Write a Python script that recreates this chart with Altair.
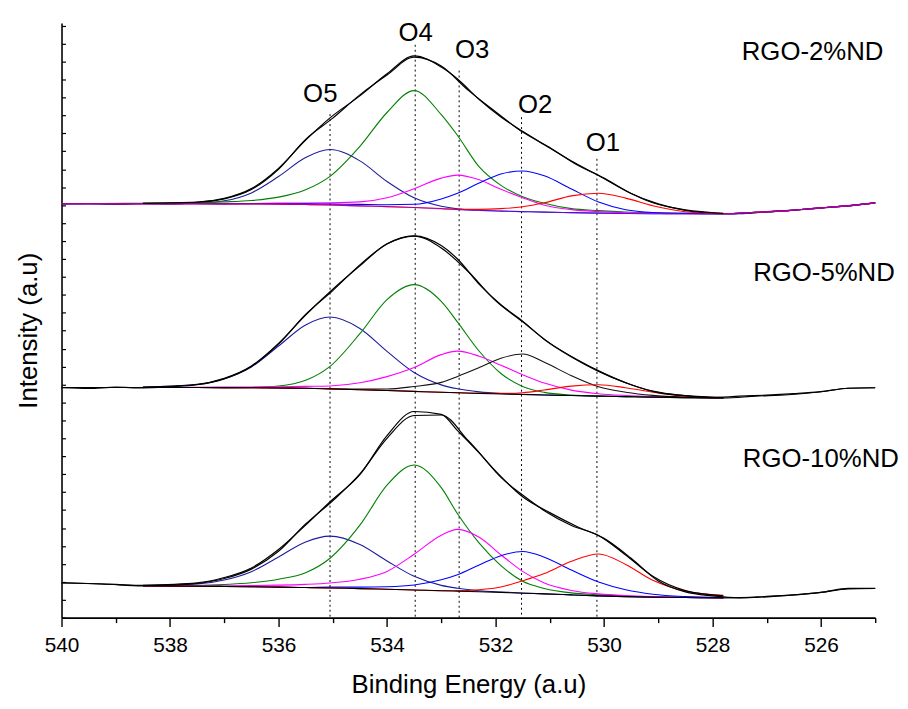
import altair as alt
import pandas as pd

FONT = "Liberation Sans"

# energy grid (eV) on which the fitted components were read (middle / bottom panels)
G = [538.5, 537.5, 537.0, 536.5, 536.0, 535.5, 535.05, 534.5, 534.0, 533.5, 533.0,
     532.7, 532.3, 531.9, 531.5, 531.1, 530.6, 530.1, 529.6, 529.1, 528.5, 527.8]
# full grid (backgrounds, and top-panel components which run across the whole range)
G_BG = [540.0, 539.25, 538.5, 537.5, 537.0, 536.5, 536.0, 535.5, 535.05, 534.5, 534.0, 533.5,
        533.0, 532.7, 532.3, 531.9, 531.5, 531.1, 530.6, 530.1, 529.6, 529.1, 528.5, 527.8,
        527.2, 526.6, 526.0, 525.5, 525.0]
# raw spectrum grid
RAW_E = [540.0, 539.5, 539.0, 538.5, 538.0, 537.5, 537.0, 536.5, 536.0, 535.5, 535.0,
         534.5, 534.0, 533.5, 533.0, 532.5, 532.0, 531.5, 531.0, 530.5, 530.0,
         529.5, 529.0, 528.5, 528.0, 527.5, 527.0, 526.5, 526.0, 525.5, 525.0]

# ---- backgrounds (absolute intensity, a.u.) on G_BG ----
BG_TOP = [417.6, 417.8, 417.7, 417.6, 417.5, 417.4, 417.3, 416.8, 416.3, 415.5, 414.7, 413.8,
          412.5, 411.5, 410.8, 410.2, 409.7, 409.2, 408.7, 408.2, 407.8, 407.6, 407.5, 407.5,
          409.0, 410.7, 413.5, 415.5, 418.5]
BG_MID = [232.3, 232.3, 232.3, 232.2, 232.1, 232.0, 231.8, 231.4, 230.8, 230.0, 229.2, 228.3,
          227.4, 226.9, 226.3, 225.7, 225.2, 224.7, 224.1, 223.5, 223.0, 222.5, 222.0, 221.7,
          223.5, 225.0, 228.0, 231.5, 232.0]
BG_BOT = [35.0, 34.0, 32.0, 31.7, 31.5, 31.2, 30.8, 30.4, 30.0, 29.3, 28.7, 28.0,
          27.2, 26.8, 26.2, 25.5, 24.7, 24.0, 23.0, 22.0, 21.2, 20.7, 20.3, 20.0,
          20.5, 22.5, 25.5, 29.0, 29.5]

# ---- component heights above background ----
# top panel: on G_BG
O5_TOP = [0, 0, 0, 0.6, 3.1, 11.2, 27.8, 47.5, 56, 45.4, 25.4, 9.8, 2.6, 1.0, 0.2, 0, 0, 0, 0, 0, 0, 0, 0, 0, 0, 0, 0, 0, 0]
O4_TOP = [0, 0, 0.5, 1, 2, 3.5, 7, 15, 29, 60, 95, 118, 95, 75, 44, 26, 15, 9, 4, 2.5, 1.5, 1, 0.5, 0, 0, 0, 0, 0, 0]
O3_TOP = [0, 0, 0, 0, 0.3, 0.5, 1, 1.5, 2.2, 4, 9, 19, 31, 35, 31, 22, 14, 7, 3, 1.5, 0.8, 0.4, 0, 0, 0, 0, 0, 0, 0]
O2_TOP = [0, 0, 0, 0, 0, 0.2, 0.4, 0.8, 1, 1.5, 2, 3.3, 10, 16.7, 27.7, 37.4, 41, 36.6, 23.8, 11.2, 3.8, 1.2, 0.4, 0, 0, 0, 0, 0, 0]
O1_TOP = [0, 0, 0, 0, 0, 0, 0, 0, 0, 0, 0, 0, 0.3, 0.5, 1.2, 2.5, 4.9, 9.4, 16.9, 20, 15.5, 8, 2.1, 0.2, 0, 0, 0, 0, 0]
# fits: on G
FIT_TOP = [0.5, 1.6, 5.5, 15.5, 36, 65, 88, 111, 134, 153, 143, 132, 112, 95, 81, 68, 52, 38, 23, 11, 4, 0.5]

# middle / bottom panels: on G
O5_MID = [0.3, 3, 9, 21, 42.3, 63.9, 72.5, 61.8, 39.5, 19, 7.5, 4, 1.5, 0.5, 0.2, 0, 0, 0, 0, 0, 0, 0]
O4_MID = [0, 0, 0, 0.3, 1.9, 8.1, 22.8, 56.5, 91.7, 107.7, 91.7, 71.3, 42.5, 20.7, 8.1, 2.6, 0.5, 0, 0, 0, 0, 0]
O3_MID = [0, 0.3, 0.5, 0.8, 1.2, 2, 3, 7, 14, 24, 38, 42, 37.5, 29, 20, 12, 5.5, 2.5, 1.2, 0.6, 0.3, 0]
O2_MID = [0, 0, 0, 0, 0, 0, 0.3, 0.7, 1.5, 5, 10, 16.5, 26, 36, 40.8, 33, 20, 9.5, 4.5, 1.8, 0.5, 0]
O1_MID = [0, 0, 0, 0, 0, 0, 0, 0, 0, 0, 0, 0, 0.2, 0.6, 1.8, 5, 9.5, 11.5, 9, 5, 1.5, 0.3]
FIT_MID = [0.3, 3.3, 9.5, 22, 45, 74, 98, 125, 148, 157, 148, 135, 110, 90, 74, 56, 39, 25, 14, 6, 2, 0.3]

O5_BOT = [0.2, 2.2, 6.5, 15.2, 30.5, 46, 52.3, 44.6, 28.5, 13.7, 5.4, 2.9, 1, 0.4, 0.2, 0, 0, 0, 0, 0, 0, 0]
O4_BOT = [0.5, 1, 2, 4, 8, 15, 30, 64, 105, 126, 104, 78, 49, 27, 12, 5.5, 2, 1, 0.5, 0, 0, 0]
O3_BOT = [0, 0.3, 0.6, 1.2, 2, 3.2, 5, 9.5, 18, 36, 56, 62.3, 55, 38, 22, 11, 4.5, 2, 1, 0.5, 0.2, 0]
O2_BOT = [0, 0, 0, 0, 0, 0, 0.8, 1.5, 2.5, 5, 11, 16.5, 27, 37, 42, 37, 25, 14, 7, 3, 1, 0.3]
O1_BOT = [0, 0, 0, 0, 0, 0, 0, 0, 0, 0, 0, 0.3, 2, 5.5, 12.5, 20.5, 34, 42.3, 32.5, 17, 6.5, 2.5]
FIT_BOT = [0.7, 3.5, 9, 19, 38, 63, 87, 115, 155, 180, 178, 162, 140, 116, 99, 84, 70, 61, 42, 21, 7, 2]

# ---- raw spectra (absolute intensity, a.u.) on RAW_E ----
RAW_TOP = [417.5, 417.9, 417.3, 417.9, 417.4, 419.0, 422.5, 432.0, 452.5, 482.5, 504.0,
           527.5, 547.5, 565.5, 556.5, 532.0, 510.5, 490.0, 474.5, 457.0, 443.5,
           428.0, 417.5, 411.0, 408.0, 407.6, 409.6, 411.2, 413.3, 415.8, 418.5]
RAW_MID = [232.0, 231.2, 232.6, 231.8, 233.0, 235.0, 241.0, 253.5, 276.0, 306.0, 330.0,
           356.0, 377.0, 385.0, 373.0, 349.0, 320.0, 298.5, 277.0, 260.5, 246.5,
           235.0, 227.0, 224.0, 222.0, 223.5, 224.5, 226.0, 228.0, 231.5, 232.0]
RAW_BOT = [35.3, 34.5, 33.5, 32.5, 32.8, 34.5, 39.5, 49.0, 67.0, 94.5, 118.0,
           145.0, 181.0, 204.0, 204.5, 178.5, 148.0, 122.0, 106.0, 92.0, 80.0,
           60.0, 37.0, 26.0, 22.0, 20.0, 21.5, 23.0, 25.5, 29.5, 29.5]

# ---- annotations ----
DOT_E = [535.05, 533.48, 532.67, 531.52, 530.13]
DOT_TOP = [508, 578, 552, 505, 463]
O_LABELS = ["O5", "O4", "O3", "O2", "O1"]
O_LABEL_E = [535.23, 533.47, 532.43, 531.27, 530.02]
O_LABEL_V = [520, 582, 565, 509, 471]
SAMPLES = ["RGO-2%ND", "RGO-5%ND", "RGO-10%ND"]
SAMPLE_E = [527.46, 527.25, 527.44]
SAMPLE_V = [563, 340, 152]
X_TICKS = [540, 539, 538, 537, 536, 535, 534, 533, 532, 531, 530, 529, 528, 527, 526, 525]

NAVY, GREEN, MAGENTA, BLUE, RED = "#1c1c9c", "#008000", "#ff00ff", "#0000ff", "#ff0000"

# ---- build tables ----
panels = [
    ("top", BG_TOP, G_BG, [("O5", O5_TOP, NAVY), ("O4", O4_TOP, GREEN), ("O3", O3_TOP, MAGENTA),
                           ("O2", O2_TOP, BLUE), ("O1", O1_TOP, RED)], FIT_TOP, RAW_TOP, "#7a00ff"),
    ("mid", BG_MID, G, [("O5", O5_MID, NAVY), ("O4", O4_MID, GREEN), ("O3", O3_MID, MAGENTA),
                        ("O2", O2_MID, "#111111"), ("O1", O1_MID, RED)], FIT_MID, RAW_MID, "#000000"),
    ("bot", BG_BOT, G, [("O5", O5_BOT, NAVY), ("O4", O4_BOT, GREEN), ("O3", O3_BOT, MAGENTA),
                        ("O2", O2_BOT, BLUE), ("O1", O1_BOT, RED)], FIT_BOT, RAW_BOT, "#000000"),
]

comp_rows, fit_rows, bg_rows, raw_rows = [], [], [], []
for pname, bg, grid, comps, fit, raw, bgcol in panels:
    bgmap = dict(zip(G_BG, bg))
    for cname, heights, col in comps:
        for i, (e, h) in enumerate(zip(grid, heights)):
            comp_rows.append({"E": e, "v": bgmap[e] + h, "series": f"{pname}-{cname}",
                              "color": col, "i": i})
    for i, (e, h) in enumerate(zip(G, fit)):
        fit_rows.append({"E": e, "v": bgmap[e] + h, "series": f"{pname}-fit", "i": i})
    for i, (e, b) in enumerate(zip(G_BG, bg)):
        bg_rows.append({"E": e, "v": b, "series": f"{pname}-bg", "color": bgcol, "i": i,
                        "op": 0.6 if pname == "top" else 1.0})
    for i, (e, r) in enumerate(zip(RAW_E, raw)):
        raw_rows.append({"E": e, "v": r, "series": f"{pname}-raw", "i": i, "panel": pname})

comp_df = pd.DataFrame(comp_rows)
fit_df = pd.DataFrame(fit_rows)
bg_df = pd.DataFrame(bg_rows)
raw_df = pd.DataFrame(raw_rows)
raw_top_df = raw_df[raw_df["panel"] == "top"]
raw_other_df = raw_df[raw_df["panel"] != "top"]
dots_df = pd.DataFrame({"E": DOT_E, "v": DOT_TOP, "v2": [0] * len(DOT_E)})
olab_df = pd.DataFrame({"E": O_LABEL_E, "v": O_LABEL_V, "label": O_LABELS})
slab_df = pd.DataFrame({"E": SAMPLE_E, "v": SAMPLE_V, "label": SAMPLES})

# ---- scales / axes ----
x_axis = alt.Axis(
    values=X_TICKS,
    labelExpr="datum.value % 2 === 0 ? datum.label : ''",
    tickSize={"condition": {"test": "datum.value % 2 === 0", "value": 9}, "value": 5},
    labelFontSize=21, labelPadding=8, labelFlush=False, labelOverlap=False,
    titleFontSize=26, titleFontWeight="normal", titlePadding=17,
    grid=False, domainWidth=1.6, tickWidth=1.4,
)
y_axis = alt.Axis(
    values=[round(18.1 * k, 1) for k in range(34)],
    labels=False, tickSize={"expr": "-4"}, tickWidth=1.2,
    titleFontSize=26, titleFontWeight="normal", titlePadding=20, titleY=310,
    grid=False, domainWidth=1.6,
)
x_enc = alt.X("E:Q", scale=alt.Scale(domain=[525, 540], reverse=True, nice=False, zero=False),
              axis=x_axis, title="Binding Energy (a.u)")
y_enc = alt.Y("v:Q", scale=alt.Scale(domain=[0, 600], nice=False, zero=False),
              axis=y_axis, title="Intensity (a.u)")

rules = alt.Chart(dots_df).mark_rule(color="black", strokeWidth=1, strokeDash=[2, 3]).encode(
    x=x_enc, y=y_enc, y2="v2:Q")

raw_top = alt.Chart(raw_top_df).mark_line(color="black", strokeWidth=1.2, interpolate="monotone").encode(
    x=x_enc, y=y_enc, detail="series:N", order="i:Q")

comps = alt.Chart(comp_df).mark_line(strokeWidth=1.1, interpolate="monotone").encode(
    x=x_enc, y=y_enc, color=alt.Color("color:N", scale=None), detail="series:N", order="i:Q")

bgs = alt.Chart(bg_df).mark_line(strokeWidth=1.1, interpolate="monotone").encode(
    x=x_enc, y=y_enc, color=alt.Color("color:N", scale=None),
    opacity=alt.Opacity("op:Q", scale=None), detail="series:N", order="i:Q")

fits = alt.Chart(fit_df).mark_line(color="black", strokeWidth=1.2, interpolate="monotone").encode(
    x=x_enc, y=y_enc, detail="series:N", order="i:Q")

raw_other = alt.Chart(raw_other_df).mark_line(color="black", strokeWidth=1.2, interpolate="monotone").encode(
    x=x_enc, y=y_enc, detail="series:N", order="i:Q")

olabels = alt.Chart(olab_df).mark_text(font=FONT, fontSize=26, align="center", baseline="alphabetic",
                                       color="black").encode(x=x_enc, y=y_enc, text="label:N")
slabels = alt.Chart(slab_df).mark_text(font=FONT, fontSize=26, align="left", baseline="alphabetic",
                                       color="black").encode(x=x_enc, y=y_enc, text="label:N")

chart = alt.layer(rules, raw_top, comps, bgs, fits, raw_other, olabels, slabels).properties(
    width=821, height=600,
    autosize=alt.AutoSizeParams(type="none"),
    padding={"left": 54, "top": 12, "right": 25, "bottom": 88},
).configure_view(stroke=None).configure_axis(
    labelFont=FONT, titleFont=FONT, labelColor="black", titleColor="black",
    domainColor="black", tickColor="black",
)

chart.save("out.html", embed_options={"renderer": "svg", "actions": False})
